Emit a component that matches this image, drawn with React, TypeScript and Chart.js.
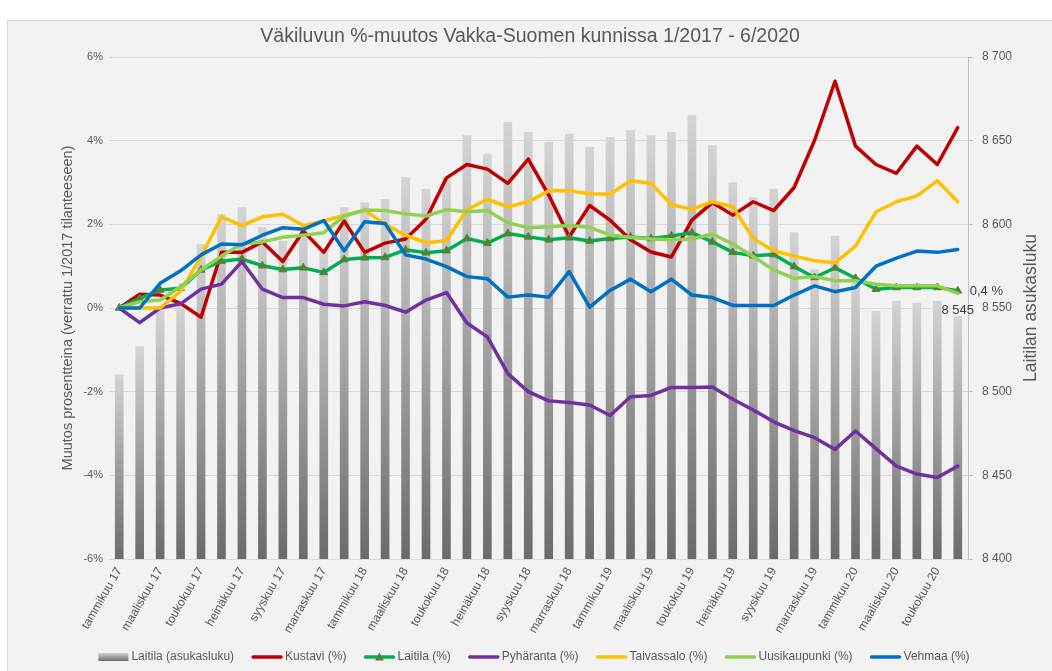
import React, { useEffect, useRef } from 'react';
import { Chart, registerables } from 'chart.js';

Chart.register(...registerables);

const categories = [
  'tammikuu 17', 'helmikuu 17', 'maaliskuu 17', 'huhtikuu 17', 'toukokuu 17', 'kesäkuu 17',
  'heinäkuu 17', 'elokuu 17', 'syyskuu 17', 'lokakuu 17', 'marraskuu 17', 'joulukuu 17',
  'tammikuu 18', 'helmikuu 18', 'maaliskuu 18', 'huhtikuu 18', 'toukokuu 18', 'kesäkuu 18',
  'heinäkuu 18', 'elokuu 18', 'syyskuu 18', 'lokakuu 18', 'marraskuu 18', 'joulukuu 18',
  'tammikuu 19', 'helmikuu 19', 'maaliskuu 19', 'huhtikuu 19', 'toukokuu 19', 'kesäkuu 19',
  'heinäkuu 19', 'elokuu 19', 'syyskuu 19', 'lokakuu 19', 'marraskuu 19', 'joulukuu 19',
  'tammikuu 20', 'helmikuu 20', 'maaliskuu 20', 'huhtikuu 20', 'toukokuu 20', 'kesäkuu 20',
];

const laitilaPopulation = [
  8510, 8527, 8549, 8551, 8588, 8606, 8610, 8598, 8590, 8598,
  8585, 8610, 8613, 8615, 8628, 8621, 8628, 8653, 8642, 8661,
  8655, 8649, 8654, 8646, 8652, 8656, 8653, 8655, 8665, 8647,
  8625, 8616, 8621, 8595, 8573, 8593, 8568, 8548, 8554, 8553,
  8554, 8545,
];

const kustaviPct = [
  0, 0.33, 0.31, 0.11, -0.22, 1.33, 1.33, 1.58, 1.11, 1.84, 1.33, 2.08, 1.33, 1.55,
  1.65, 2.12, 3.11, 3.43, 3.32, 2.98, 3.56, 2.70, 1.70, 2.45, 2.10, 1.63, 1.34, 1.22,
  2.10, 2.52, 2.22, 2.54, 2.33, 2.88, 4.01, 5.42, 3.87, 3.43, 3.22, 3.87, 3.43, 4.31,
];

const laitilaPct = [
  0, 0.23, 0.43, 0.47, 0.91, 1.12, 1.17, 1.01, 0.92, 0.96, 0.85, 1.16, 1.20, 1.21,
  1.39, 1.32, 1.37, 1.66, 1.55, 1.78, 1.70, 1.63, 1.68, 1.60, 1.66, 1.70, 1.66, 1.72,
  1.80, 1.58, 1.33, 1.25, 1.28, 0.99, 0.73, 0.96, 0.71, 0.45, 0.49, 0.49, 0.49, 0.41,
];

const pyharantaPct = [
  0, -0.35, 0, 0.10, 0.45, 0.57, 1.11, 0.45, 0.25, 0.25, 0.09, 0.05, 0.15, 0.06,
  -0.10, 0.19, 0.37, -0.36, -0.69, -1.57, -2.00, -2.22, -2.26, -2.32, -2.57, -2.12, -2.09, -1.90,
  -1.90, -1.89, -2.18, -2.44, -2.72, -2.93, -3.10, -3.38, -2.94, -3.36, -3.78, -3.97, -4.05, -3.78,
];

const taivassaloPct = [
  0, 0, 0, 0.40, 1.23, 2.18, 1.97, 2.18, 2.24, 1.97, 2.08, 2.21, 2.34, 2.00,
  1.74, 1.56, 1.61, 2.35, 2.60, 2.42, 2.54, 2.80, 2.80, 2.73, 2.72, 3.04, 2.98, 2.47,
  2.36, 2.54, 2.42, 1.66, 1.37, 1.24, 1.13, 1.08, 1.48, 2.30, 2.54, 2.68, 3.04, 2.54,
];

const uusikaupunkiPct = [
  0, 0.15, 0.19, 0.51, 0.91, 1.24, 1.53, 1.58, 1.69, 1.74, 1.80, 2.20, 2.34, 2.33,
  2.25, 2.20, 2.35, 2.30, 2.33, 2.04, 1.92, 1.94, 1.97, 1.93, 1.74, 1.69, 1.65, 1.63,
  1.65, 1.77, 1.53, 1.23, 0.91, 0.71, 0.75, 0.65, 0.65, 0.57, 0.53, 0.53, 0.53, 0.35,
];

const vehmaaPct = [
  0, 0, 0.59, 0.89, 1.27, 1.53, 1.51, 1.74, 1.92, 1.88, 2.09, 1.37, 2.06, 2.02,
  1.27, 1.17, 0.99, 0.75, 0.70, 0.26, 0.31, 0.26, 0.87, 0.02, 0.42, 0.69, 0.39, 0.69,
  0.31, 0.25, 0.06, 0.06, 0.06, 0.31, 0.53, 0.39, 0.49, 1.00, 1.19, 1.36, 1.33, 1.40,
];

const chartTitle = 'Väkiluvun %-muutos Vakka-Suomen kunnissa 1/2017 - 6/2020';
const leftAxisTitle = 'Muutos prosentteina (verrattu 1/2017 tilanteeseen)';
const rightAxisTitle = 'Laitilan asukasluku';

const FONT = '"Liberation Sans", Arial, sans-serif';
const TEXT = '#595959';

const lineSeries = [
  { label: 'Kustavi (%)', data: kustaviPct, color: '#c00000' },
  { label: 'Laitila (%)', data: laitilaPct, color: '#00b050', marker: '#548235' },
  { label: 'Pyhäranta (%)', data: pyharantaPct, color: '#7030a0' },
  { label: 'Taivassalo (%)', data: taivassaloPct, color: '#ffc000' },
  { label: 'Uusikaupunki (%)', data: uusikaupunkiPct, color: '#92d050' },
  { label: 'Vehmaa (%)', data: vehmaaPct, color: '#0070c0' },
];

const fmtThousands = (v: number) => {
  const n = Math.round(v);
  const th = Math.floor(n / 1000);
  const rest = String(n % 1000).padStart(3, '0');
  return th > 0 ? `${th} ${rest}` : String(n);
};

const barGradient = (c: CanvasRenderingContext2D, top: number, bottom: number) => {
  const g = c.createLinearGradient(0, top, 0, bottom);
  g.addColorStop(0, '#d4d4d4');
  g.addColorStop(1, '#6b6b6b');
  return g;
};

const decorPlugin = {
  id: 'decor',
  afterDraw(chart: any) {
    const c: CanvasRenderingContext2D = chart.ctx;
    const area = chart.chartArea;
    c.save();
    // Title
    c.fillStyle = TEXT;
    c.font = `19.5px ${FONT}`;
    c.textAlign = 'center';
    c.textBaseline = 'middle';
    c.fillText(chartTitle, 530, 37);

    // Axis titles
    c.font = `14.5px ${FONT}`;
    c.save();
    c.translate(68, (area.top + area.bottom) / 2);
    c.rotate(-Math.PI / 2);
    c.fillText(leftAxisTitle, 0, 0);
    c.restore();
    c.font = `17.5px ${FONT}`;
    c.save();
    c.translate(1031, (area.top + area.bottom) / 2);
    c.rotate(-Math.PI / 2);
    c.fillText(rightAxisTitle, 0, 0);
    c.restore();

    // Data labels on last points
    const last = categories.length - 1;
    const xs = chart.scales.x;
    const x = xs.getPixelForValue(last);
    const yBar = chart.scales.y2.getPixelForValue(laitilaPopulation[last]);
    c.fillStyle = '#404040';
    c.font = `13px ${FONT}`;
    c.textAlign = 'center';
    c.textBaseline = 'middle';
    c.fillText(fmtThousands(laitilaPopulation[last]), x, yBar - 6);
    const yPt = chart.scales.y.getPixelForValue(laitilaPct[last]);
    c.textAlign = 'left';
    c.fillText(`${laitilaPct[last].toFixed(1).replace('.', ',')} %`, x + 12, yPt + 1);

    // Legend
    const items: any[] = [{ label: 'Laitila (asukasluku)', box: true }, ...lineSeries];
    c.font = `12px ${FONT}`;
    const symW = 30;
    const gap = 3;
    const spacing = 18;
    const widths = items.map((it) => c.measureText(it.label).width);
    const total = widths.reduce((a, w) => a + symW + gap + w, 0) + spacing * (items.length - 1);
    let lx = 534 - total / 2;
    const ly = 657;
    items.forEach((it, i) => {
      if (it.box) {
        c.fillStyle = barGradient(c, ly - 4, ly + 4);
        c.fillRect(lx, ly - 4, symW, 8);
      } else {
        c.strokeStyle = it.color;
        c.lineWidth = 3.5;
        c.lineCap = 'round';
        c.beginPath();
        c.moveTo(lx + 1, ly);
        c.lineTo(lx + symW - 1, ly);
        c.stroke();
        if (it.marker) {
          c.fillStyle = it.marker;
          c.beginPath();
          const cx = lx + symW / 2;
          c.moveTo(cx, ly - 4.5);
          c.lineTo(cx + 4.5, ly + 3.5);
          c.lineTo(cx - 4.5, ly + 3.5);
          c.closePath();
          c.fill();
        }
      }
      c.fillStyle = TEXT;
      c.textAlign = 'left';
      c.textBaseline = 'middle';
      c.fillText(it.label, lx + symW + gap, ly);
      lx += symW + gap + widths[i] + spacing;
    });
    c.restore();
  },
};

export default function App() {
  const canvasRef = useRef<HTMLCanvasElement | null>(null);

  useEffect(() => {
    const canvas = canvasRef.current;
    if (!canvas) return;
    Chart.defaults.font.family = FONT;

    const datasets: any[] = lineSeries.map((s, i) => ({
      type: 'line',
      label: s.label,
      data: s.data,
      yAxisID: 'y',
      borderColor: s.color,
      backgroundColor: s.color,
      borderWidth: 3.5,
      borderJoinStyle: 'round',
      borderCapStyle: 'round',
      tension: 0,
      fill: false,
      pointRadius: s.marker ? 4.5 : 0,
      pointStyle: 'triangle',
      pointBackgroundColor: s.marker || s.color,
      pointBorderColor: s.marker || s.color,
      pointBorderWidth: 1,
      order: lineSeries.length - i,
    }));

    datasets.unshift({
      type: 'bar',
      label: 'Laitila (asukasluku)',
      data: laitilaPopulation,
      yAxisID: 'y2',
      barThickness: 8,
      order: 100,
      backgroundColor: (ctx: any) => {
        const chart = ctx.chart;
        const { chartArea, scales } = chart;
        if (!chartArea || !scales.y2 || typeof ctx.raw !== 'number') return '#a6a6a6';
        const top = scales.y2.getPixelForValue(ctx.raw);
        return barGradient(chart.ctx, top, scales.y2.bottom);
      },
    });

    const chart = new Chart(canvas, {
      type: 'bar',
      data: { labels: categories, datasets },
      plugins: [decorPlugin],
      options: {
        responsive: false,
        animation: false,
        devicePixelRatio: 1,
        layout: { padding: { top: 57, left: 0, right: 0, bottom: 0 } },
        plugins: {
          legend: { display: false },
          title: { display: false },
          tooltip: { enabled: false },
        },
        scales: {
          x: {
            offset: true,
            grid: { display: false, drawTicks: false },
            border: { display: false },
            ticks: {
              autoSkip: false,
              minRotation: 60,
              maxRotation: 60,
              padding: 6,
              color: TEXT,
              font: { size: 12, family: FONT },
              callback: (_v: any, idx: number) => (idx % 2 === 0 ? categories[idx] : ''),
            },
            afterFit: (scale: any) => {
              scale.height = 112;
            },
          },
          y: {
            position: 'left',
            min: -6,
            max: 6,
            grid: { color: '#d9d9d9', lineWidth: 1, drawTicks: false },
            border: { display: false },
            ticks: {
              stepSize: 2,
              padding: 6,
              color: TEXT,
              font: { size: 11, family: FONT },
              callback: (v: any) => `${v}%`,
            },
            afterFit: (scale: any) => {
              scale.width = 109;
            },
          },
          y2: {
            position: 'right',
            min: 8400,
            max: 8700,
            grid: {
              drawOnChartArea: false,
              drawTicks: true,
              tickLength: 5,
              tickColor: '#bfbfbf',
              color: '#bfbfbf',
            },
            border: { display: true, color: '#bfbfbf', width: 1 },
            ticks: {
              stepSize: 50,
              padding: 9,
              color: TEXT,
              font: { size: 12, family: FONT },
              callback: (v: any) => fmtThousands(Number(v)),
            },
            afterFit: (scale: any) => {
              scale.width = 84;
            },
          },
        },
      } as any,
    });

    return () => {
      chart.destroy();
    };
  }, []);

  return (
    <div style={{ position: 'fixed', left: 0, top: 0, width: 1052, height: 671, overflow: 'hidden', background: '#ffffff' }}>
      <div
        style={{
          position: 'absolute',
          left: 7,
          top: 20,
          width: 1060,
          height: 670,
          background: '#f2f2f2',
          border: '1px solid #d9d9d9',
        }}
      />
      <canvas
        ref={canvasRef}
        width={1052}
        height={671}
        style={{ position: 'absolute', left: 0, top: 0, width: 1052, height: 671 }}
      />
    </div>
  );
}
